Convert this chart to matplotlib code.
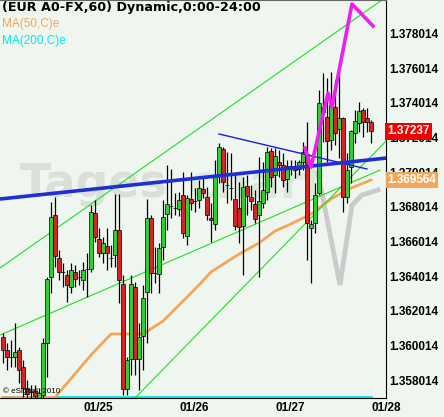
import numpy as np
from matplotlib import pyplot as plt
from matplotlib import transforms

plt.rcParams['font.family'] = ['Liberation Sans', 'DejaVu Sans']

# EUR A0-FX hourly bars (bar index = hour, 01/25 00:00 starts at bar 24)
opens = [1.36051, 1.35976, 1.35935, 1.35935, 1.35976, 1.35877, 1.35756, 1.35733, 1.35739, 1.35699,
         1.35716, 1.36016, 1.36397, 1.36755, 1.36506, 1.36426, 1.36408, 1.36339, 1.36426, 1.36397,
         1.36379, 1.36443, 1.36443, 1.36766, 1.36616, 1.36535, 1.36576, 1.36506, 1.36524, 1.36668,
         1.36356, 1.35751, 1.35924, 1.36339, 1.35924, 1.36056, 1.36310, 1.36737, 1.36420, 1.36414,
         1.36570, 1.36760, 1.36806, 1.36795, 1.36789, 1.36870, 1.36633, 1.36847, 1.36835, 1.36841,
         1.36905, 1.36858, 1.36737, 1.36703, 1.36985, 1.37135, 1.36928, 1.36910, 1.36847, 1.36795,
         1.36691, 1.36922, 1.36858, 1.36818, 1.36755, 1.36824, 1.36887, 1.37124, 1.36985, 1.37060,
         1.37043, 1.36962, 1.37037, 1.37031, 1.37020, 1.37060, 1.37106, 1.36679, 1.36708, 1.36881,
         1.37378, 1.37320, 1.37187, 1.37378, 1.37251, 1.37314, 1.36858, 1.37031, 1.37228, 1.37285,
         1.37360, 1.37314, 1.37291]
highs = [1.36074, 1.36016, 1.36033, 1.36131, 1.35993, 1.35918, 1.35802, 1.35774, 1.35774, 1.35756,
         1.36045, 1.36397, 1.36829, 1.36858, 1.36553, 1.36478, 1.36437, 1.36478, 1.36466, 1.36437,
         1.36483, 1.36535, 1.36812, 1.36841, 1.36679, 1.36628, 1.36679, 1.36581, 1.36876, 1.36876,
         1.36408, 1.35935, 1.36408, 1.36368, 1.36131, 1.36351, 1.36847, 1.36755, 1.36570, 1.36593,
         1.36841, 1.37043, 1.37020, 1.36881, 1.36887, 1.37003, 1.36870, 1.37003, 1.36910, 1.36956,
         1.36968, 1.36916, 1.36824, 1.37072, 1.37170, 1.37147, 1.37118, 1.37112, 1.36997, 1.36945,
         1.36974, 1.36985, 1.36928, 1.36899, 1.37089, 1.37060, 1.37147, 1.37141, 1.37141, 1.37130,
         1.37112, 1.37072, 1.37072, 1.37072, 1.37072, 1.37176, 1.37291, 1.36726, 1.36939, 1.37476,
         1.37574, 1.37545, 1.37580, 1.37533, 1.37580, 1.37320, 1.37112, 1.37245, 1.37360, 1.37406,
         1.37372, 1.37372, 1.37303]
lows = [1.35901, 1.35860, 1.35877, 1.35877, 1.35785, 1.35704, 1.35690, 1.35690, 1.35690, 1.35690,
        1.35690, 1.35820, 1.36304, 1.36454, 1.36379, 1.36339, 1.36253, 1.36304, 1.36339, 1.36351,
        1.36322, 1.36281, 1.36426, 1.36599, 1.36512, 1.36478, 1.36437, 1.36454, 1.36454, 1.36247,
        1.35716, 1.35716, 1.35831, 1.35831, 1.35745, 1.35860, 1.36016, 1.36304, 1.36362, 1.36304,
        1.36495, 1.36668, 1.36737, 1.36755, 1.36749, 1.36622, 1.36581, 1.36783, 1.36772, 1.36795,
        1.36853, 1.36726, 1.36599, 1.36668, 1.36939, 1.36887, 1.36824, 1.36841, 1.36668, 1.36593,
        1.36408, 1.36755, 1.36783, 1.36708, 1.36397, 1.36795, 1.36841, 1.36916, 1.36881, 1.36974,
        1.36916, 1.36887, 1.36985, 1.36968, 1.36985, 1.37014, 1.36495, 1.36362, 1.36651, 1.36870,
        1.37176, 1.37060, 1.37130, 1.37158, 1.37083, 1.36772, 1.36824, 1.36939, 1.37170, 1.37233,
        1.37205, 1.37233, 1.37170]
closes = [1.35976, 1.35935, 1.35937, 1.35964, 1.35860, 1.35756, 1.35722, 1.35735, 1.35710, 1.35727,
          1.36016, 1.36385, 1.36743, 1.36518, 1.36426, 1.36424, 1.36351, 1.36437, 1.36385, 1.36395,
          1.36437, 1.36445, 1.36772, 1.36628, 1.36535, 1.36593, 1.36535, 1.36504, 1.36668, 1.36379,
          1.35751, 1.35918, 1.36356, 1.35924, 1.36051, 1.36276, 1.36737, 1.36420, 1.36422, 1.36564,
          1.36743, 1.36818, 1.36808, 1.36797, 1.36841, 1.36651, 1.36853, 1.36824, 1.36833, 1.36910,
          1.36881, 1.36755, 1.36726, 1.36985, 1.37147, 1.36945, 1.36926, 1.36908, 1.36691, 1.36685,
          1.36916, 1.36864, 1.36835, 1.36731, 1.36835, 1.36899, 1.37118, 1.36974, 1.37095, 1.37043,
          1.36956, 1.37037, 1.37035, 1.37014, 1.37060, 1.37118, 1.36708, 1.36703, 1.36870, 1.37401,
          1.37349, 1.37181, 1.37389, 1.37228, 1.37314, 1.36858, 1.37014, 1.37239, 1.37297, 1.37355,
          1.37291, 1.37291, 1.37237]

ma50_bars = [0, 13, 22, 27, 35, 40, 45, 49, 52, 59, 64, 68, 72, 77, 82, 87, 92]
ma50_vals = [1.35600, 1.35690, 1.35947, 1.36068, 1.36068, 1.36143, 1.36258, 1.36351, 1.36426,
             1.36529, 1.36593, 1.36662, 1.36703, 1.36760, 1.36847, 1.36910, 1.369564]
ma200_bars = [0, 46, 92]
ma200_vals = [1.35480, 1.35520, 1.35560]

# drawing tools: (bar0, price0, bar1, price1)
green_lines = [(-0.75, 1.36449, 94.75, 1.37995),
               (-0.75, 1.36062, 94.25, 1.37014),
               (33.0, 1.35699, 95.75, 1.37181)]
blue_trend = (-0.75, 1.36847, 95.75, 1.37083)
blue_thin = (54.0, 1.37222, 91.0, 1.37020)
pink_bars = [75.5, 77.0, 81.25, 82.25, 87.25, 92.5]
pink_vals = [1.37141, 1.37031, 1.37458, 1.37378, 1.37972, 1.37845]
ghost_bars = [78.75, 84.25, 87.25, 89.75, 93.75]
ghost_vals = [1.36997, 1.36351, 1.36812, 1.36870, 1.36899]

y_ticks = [1.358014, 1.360014, 1.362014, 1.364014, 1.366014, 1.368014,
           1.370014, 1.372014, 1.374014, 1.376014, 1.378014]
day_labels = ['01/25', '01/26', '01/27', '01/28']
day_pos = [23.75, 47.75, 71.75, 95.75]
last_price = 1.37237
ma50_last = 1.369564

Y_LO, Y_HI = 1.35699, 1.37995
BG = '#EFF6EF'
GREEN = '#33CC33'
RED = '#D42424'

fig = plt.figure(figsize=(4.44, 4.17), dpi=100, facecolor=BG)
ax = fig.add_axes([0, 1 - 398 / 417, 386 / 444, 398 / 417])
ax.set_facecolor(BG)

# faint "Tageschart" watermark
ax.text(0.05, 0.505, "Tages", transform=ax.transAxes, fontsize=33, fontweight='bold',
        family='DejaVu Sans', color='#DADFDA', zorder=0.5)
ax.text(0.49, 0.505, "chart", transform=ax.transAxes, fontsize=33, fontweight='bold',
        family='DejaVu Sans', color='#D9EAD9', zorder=0.5)

ax.plot(ghost_bars, ghost_vals, color='#CBCBCB', lw=3.5, solid_joinstyle='miter', zorder=1)

ax.plot(ma200_bars, np.clip(ma200_vals, Y_LO + 0.00003, None), color='#00E8F0', lw=2, zorder=2)
ax.plot(ma50_bars, np.clip(ma50_vals, Y_LO + 0.00003, None), color='#F2A65A', lw=2, zorder=2)

for b0, p0, b1, p1 in green_lines:
    ax.plot([b0, b1], [p0, p1], color='#22DD22', lw=0.8, zorder=2.5)

o, h, l, c = map(np.array, (opens, highs, lows, closes))
idx = np.arange(len(o))
up = c >= o
ax.vlines(idx, l, h, color='k', lw=0.9, zorder=3)
body_lo = np.minimum(o, c)
body_h = np.maximum(np.abs(c - o), 0.00002)
ax.bar(idx, body_h, width=0.82, bottom=body_lo, color=np.where(up, GREEN, RED),
       edgecolor='k', linewidth=0.5, zorder=4)

ax.plot([blue_thin[0], blue_thin[2]], [blue_thin[1], blue_thin[3]], color='#1A1AE6', lw=1, zorder=5)
ax.plot([blue_trend[0], blue_trend[2]], [blue_trend[1], blue_trend[3]], color='#1F2FD6', lw=2.6, zorder=5)
ax.plot(pink_bars, pink_vals, color='#EE1EEE', lw=2.6, zorder=6)

ax.set_xlim(-0.75, 95.75)
ax.set_ylim(Y_LO, Y_HI)

ax.yaxis.tick_right()
ax.set_yticks(y_ticks)
ax.set_yticklabels(['%.6f' % t for t in y_ticks], fontsize=8.5, fontweight='bold')
ax.tick_params(axis='y', length=0, pad=2)
ax.set_xticks(day_pos)
ax.set_xticklabels(day_labels, fontsize=8.5, fontweight='bold')
ax.tick_params(axis='x', length=0, pad=3)

ax.spines['left'].set_visible(False)
ax.spines['top'].set_color('#666666')
ax.spines['right'].set_color('k')
ax.spines['bottom'].set_color('k')

trans = transforms.blended_transform_factory(ax.transAxes, ax.transData)
ax.text(1.003, last_price, '%.5f' % last_price, transform=trans, va='center', ha='left',
        fontsize=8.5, fontweight='bold', color='white', zorder=10, clip_on=False,
        bbox=dict(facecolor='#F00000', edgecolor='none', pad=1.6))
ax.text(1.003, ma50_last, '%.6f' % ma50_last, transform=trans, va='center', ha='left',
        fontsize=8.5, fontweight='bold', color='white', zorder=10, clip_on=False,
        bbox=dict(facecolor='#F2A65A', edgecolor='none', pad=1.2))

ax.text(0.008, 0.016, '\u00a9 eSignal, 2010', transform=ax.transAxes, fontsize=5.8,
        va='center', ha='left', color='k', zorder=7)

fig.text(2 / 444, 1 - 1 / 417, '(EUR A0-FX,60) Dynamic,0:00-24:00', fontsize=9.2,
         family='DejaVu Sans', fontweight='bold', va='top', ha='left', color='k')
fig.text(2 / 444, 1 - 18 / 417, 'MA(50,C)e', fontsize=8.5, va='top', ha='left', color='#F2A65A')
fig.text(2 / 444, 1 - 35 / 417, 'MA(200,C)e', fontsize=8.5, va='top', ha='left', color='#00E8F0')

fig.savefig('out.png', dpi=100, facecolor=BG)
